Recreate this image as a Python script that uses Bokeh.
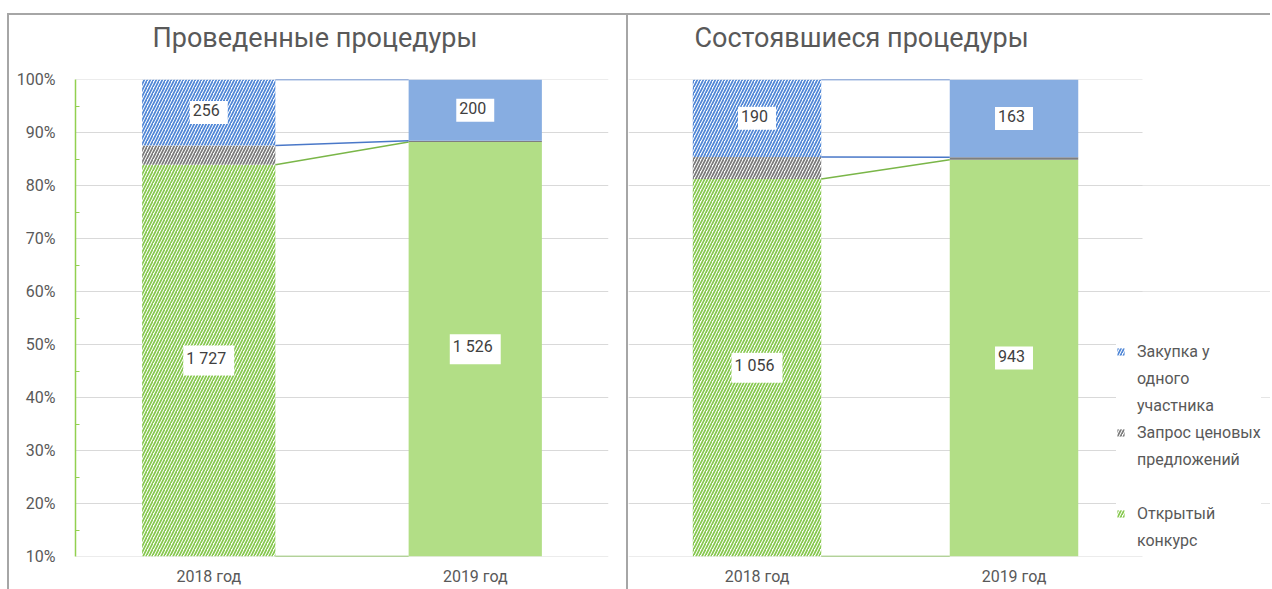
from bokeh.plotting import figure
from bokeh.layouts import row
from bokeh.models import (ColumnDataSource, FixedTicker, NumeralTickFormatter, Range1d,
                          Legend, LegendItem, Title)
from bokeh.core.properties import value
from bokeh.embed import file_html
from bokeh.resources import INLINE

# ---------------- data ----------------
categories = ["2018 год", "2019 год"]
series_names = ["Закупка у одного участника", "Запрос ценовых предложений", "Открытый конкурс"]
legend_lines = [["Закупка у", "одного", "участника"],
                ["Запрос ценовых", "предложений", " "],
                ["Открытый", "конкурс"]]

held_open = [1727, 1526]      # Открытый конкурс
held_request = [75, 4]        # Запрос ценовых предложений
held_single = [256, 200]      # Закупка у одного участника

done_open = [1056, 943]
done_request = [54, 5]
done_single = [190, 163]

titles = ["Проведенные процедуры", "Состоявшиеся процедуры"]
y_ticks = [0.1, 0.2, 0.3, 0.4, 0.5, 0.6, 0.7, 0.8, 0.9, 1.0]
y_minor = [0.15, 0.25, 0.35, 0.45, 0.55, 0.65, 0.75, 0.85, 0.95]
y_min, y_max = 0.1, 1.0

FONT = "Roboto"
TXT = "#595959"
GREEN_H, GREEN_S = "#86C84E", "#B2DE86"
BLUE_H, BLUE_S = "#4F86D6", "#87ADE1"
GRAY_H, GRAY_S = "#7A7A7A", "#7F7F7F"
LINE_BLUE, LINE_GREEN = "#4A78C8", "#7AB648"
GRID = "#D9D9D9"
FRAME = "#A6A6A6"

BAR_W = 0.5


def fmt(v):
    return f"{v:,}".replace(",", " ")


def make_panel(open_v, req_v, single_v, title, width, left_border, right_border,
               show_y, title_offset, x_end):
    n = len(categories)
    xs = [i + 0.5 for i in range(n)]
    tot = [o + r + s for o, r, s in zip(open_v, req_v, single_v)]
    o_top = [o / t for o, t in zip(open_v, tot)]
    r_top = [(o + r) / t for o, r, t in zip(open_v, req_v, tot)]
    s_top = [1.0 for _ in tot]

    p = figure(width=width, height=574, output_backend="svg", toolbar_location=None,
               x_range=Range1d(0, x_end), y_range=Range1d(y_min, y_max),
               min_border_left=left_border, min_border_right=right_border,
               min_border_top=64, min_border_bottom=33,
               y_axis_location="left" if show_y else None)
    p.outline_line_color = None
    p.background_fill_color = "white"
    p.border_fill_color = "white"

    # spacer between frame and title, then the title itself
    p.add_layout(Title(text=" ", text_font_size="10px", standoff=11), "above")
    p.add_layout(Title(text=title, text_font=FONT, text_font_size="27px",
                       text_font_style="normal", text_color=TXT, align="left",
                       vertical_align="top", offset=title_offset, standoff=0), "above")

    # x axis
    xa = p.xaxis[0]
    xa.ticker = FixedTicker(ticks=xs)
    xa.major_label_overrides = {x: c for x, c in zip(xs, categories)}
    xa.axis_line_color = None
    xa.major_tick_line_color = None
    xa.minor_tick_line_color = None
    xa.major_tick_in = 0
    xa.major_tick_out = 0
    xa.minor_tick_in = 0
    xa.minor_tick_out = 0
    xa.major_label_text_font = FONT
    xa.major_label_text_font_size = "16px"
    xa.major_label_text_color = TXT
    xa.major_label_standoff = 10
    p.xgrid.visible = False

    # horizontal gridlines across the category area
    p.segment(x0=[0] * len(y_ticks), x1=[n] * len(y_ticks), y0=y_ticks, y1=y_ticks,
              line_color=GRID, line_width=1)

    if show_y:
        ya = p.yaxis[0]
        ya.ticker = FixedTicker(ticks=y_ticks, minor_ticks=y_minor)
        ya.formatter = NumeralTickFormatter(format="0%")
        ya.axis_line_color = "#92D050"
        ya.axis_line_width = 1.5
        ya.major_tick_in = 0
        ya.major_tick_out = 0
        ya.minor_tick_in = 4
        ya.minor_tick_out = 0
        ya.minor_tick_line_color = "#92D050"
        ya.major_label_text_font = FONT
        ya.major_label_text_font_size = "16px"
        ya.major_label_text_color = TXT
        ya.major_label_standoff = 20
        p.ygrid.visible = False

    hatch = ["/", " "]
    src_open = ColumnDataSource(dict(x=xs, bottom=[0.0] * n, top=o_top,
                                     fill=["white", GREEN_S], hatch=hatch))
    src_req = ColumnDataSource(dict(x=xs, bottom=o_top, top=r_top,
                                    fill=["white", GRAY_S], hatch=hatch))
    src_single = ColumnDataSource(dict(x=xs, bottom=r_top, top=s_top,
                                       fill=["white", BLUE_S], hatch=hatch))
    common = dict(x="x", bottom="bottom", top="top", width=BAR_W, fill_color="fill",
                  hatch_pattern="hatch", hatch_scale=6, hatch_weight=1.7, line_color=None)
    r_open = p.vbar(source=src_open, hatch_color=GREEN_H, **common)
    r_req = p.vbar(source=src_req, hatch_color=GRAY_H, **common)
    r_single = p.vbar(source=src_single, hatch_color=BLUE_H, **common)

    # series lines between the bars
    x0 = [xs[i] + BAR_W / 2 for i in range(n - 1)]
    x1 = [xs[i + 1] - BAR_W / 2 for i in range(n - 1)]
    seg = dict(
        x0=x0 * 4, x1=x1 * 4,
        y0=[y_min] + [o_top[0]] + [r_top[0]] + [s_top[0]],
        y1=[y_min] + [o_top[1]] + [r_top[1]] + [s_top[1]],
        color=[LINE_GREEN, LINE_GREEN, LINE_BLUE, LINE_BLUE],
    )
    p.segment(x0="x0", y0="y0", x1="x1", y1="y1", color="color", line_width=1.5,
              source=ColumnDataSource(seg))

    # data labels
    lx = xs + xs
    ly = [(y_min + t) / 2 for t in o_top] + [(b + 1.0) / 2 for b in r_top]
    lt = [fmt(v) for v in open_v] + [fmt(v) for v in single_v]
    p.text(x=lx, y=ly, text=lt, text_font=value(FONT), text_font_size="16px",
           text_color="#404040", text_align="center", text_baseline="middle",
           background_fill_color="white", padding=(3, 8, 3, 8))

    return p, (r_single, r_req, r_open)


p1, _ = make_panel(held_open, held_request, held_single, titles[0], 619, 66, 20, True, 77, 2)
p2, rends = make_panel(done_open, done_request, done_single, titles[1], 642, 0, 0, False, 66,
                       642 / 257)
p1.styles = {"border-right": f"2px solid {FRAME}"}

# legend: one row per text line, the marker on the first line of each entry
dummy = p2.vbar(x=[], top=[], width=0.1, fill_alpha=0, line_alpha=0)
items = []
for r, lines in zip(rends, legend_lines):
    for k, line in enumerate(lines):
        items.append(LegendItem(label=line, renderers=[r] if k == 0 else [dummy],
                                index=0 if k == 0 else None))

legend = Legend(items=items, location=(488, 2))
legend.label_text_font = FONT
legend.label_text_font_size = "16px"
legend.label_text_color = TXT
legend.glyph_width = 9
legend.glyph_height = 9
legend.label_height = 27
legend.label_standoff = 12
legend.spacing = 0
legend.padding = 4
legend.margin = 0
legend.border_line_color = None
legend.background_fill_color = "white"
legend.background_fill_alpha = 1
p2.add_layout(legend)

layout = row(p1, p2, styles={"border-top": f"2px solid {FRAME}",
                             "border-left": f"2px solid {FRAME}"},
             margin=(13, 0, 0, 7))
open("out.html", "w").write(file_html(layout, INLINE))
